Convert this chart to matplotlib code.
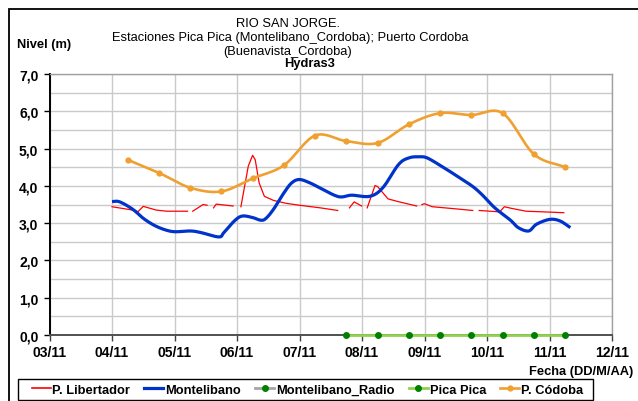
import numpy as np
import pandas as pd
import matplotlib
matplotlib.use("Agg")
import matplotlib.pyplot as plt
import matplotlib.dates as mdates
from matplotlib.lines import Line2D
from matplotlib.patches import Rectangle

plt.rcParams['font.family'] = ['Liberation Sans', 'DejaVu Sans']

FMT = "%d/%m/%Y %H:%M"

# P. Libertador (None = missing readings)
lib_t = ["04/11/2015 00:00", "04/11/2015 08:00", "04/11/2015 10:00", "04/11/2015 12:00",
         "04/11/2015 17:00", "04/11/2015 21:00", "05/11/2015 05:00", "05/11/2015 06:00",
         "05/11/2015 07:00", "05/11/2015 11:00", "05/11/2015 12:30", "05/11/2015 13:30",
         "05/11/2015 15:00", "05/11/2015 16:00", "05/11/2015 22:30", "06/11/2015 00:00",
         "06/11/2015 01:30", "06/11/2015 04:20", "06/11/2015 06:00", "06/11/2015 07:00",
         "06/11/2015 08:30", "06/11/2015 10:30", "06/11/2015 14:00", "06/11/2015 19:00",
         "07/11/2015 00:00", "07/11/2015 08:00", "07/11/2015 14:40", "07/11/2015 17:00",
         "07/11/2015 19:10", "07/11/2015 21:00", "07/11/2015 23:50", "08/11/2015 01:00",
         "08/11/2015 02:00", "08/11/2015 05:00", "08/11/2015 06:00", "08/11/2015 10:00",
         "08/11/2015 14:20", "08/11/2015 21:00", "08/11/2015 22:00", "08/11/2015 23:00",
         "09/11/2015 00:00", "09/11/2015 03:00", "09/11/2015 11:00", "09/11/2015 18:30",
         "09/11/2015 20:00", "09/11/2015 21:00", "10/11/2015 03:20", "10/11/2015 04:50",
         "10/11/2015 06:40", "10/11/2015 09:10", "10/11/2015 15:00", "10/11/2015 22:30",
         "11/11/2015 05:30"]
lib_v = [3.44, 3.35, 3.31, 3.45,
         3.35, 3.32, 3.32, None,
         3.32, 3.50, 3.48, None,
         3.41, 3.51, 3.46, None,
         3.44, 4.53, 4.82, 4.70,
         4.08, 3.72, 3.61, 3.53,
         3.48, 3.41, 3.34, None,
         3.41, 3.57, 3.46, None,
         3.41, 4.01, 3.98, 3.65,
         3.57, 3.46, None, 3.50,
         3.52, 3.44, 3.39, 3.34,
         None, 3.34, 3.31, 3.30,
         3.44, 3.40, 3.32, 3.30,
         3.28]

# Montelibano
mon_t = ["04/11/2015 00:00", "04/11/2015 03:00", "04/11/2015 08:00", "04/11/2015 12:00",
         "04/11/2015 16:00", "04/11/2015 20:00", "05/11/2015 00:00", "05/11/2015 06:00",
         "05/11/2015 10:00", "05/11/2015 17:00", "05/11/2015 19:00", "05/11/2015 23:00",
         "06/11/2015 02:00", "06/11/2015 06:00", "06/11/2015 09:00", "06/11/2015 11:00",
         "06/11/2015 14:00", "06/11/2015 18:00", "06/11/2015 21:00", "07/11/2015 00:00",
         "07/11/2015 04:00", "07/11/2015 08:00", "07/11/2015 15:00", "07/11/2015 20:00",
         "08/11/2015 03:00", "08/11/2015 08:00", "08/11/2015 14:00", "08/11/2015 18:00",
         "08/11/2015 22:00", "09/11/2015 01:00", "09/11/2015 06:00", "09/11/2015 11:00",
         "09/11/2015 18:00", "09/11/2015 22:00", "10/11/2015 03:00", "10/11/2015 09:00",
         "10/11/2015 12:00", "10/11/2015 16:00", "10/11/2015 19:00", "11/11/2015 00:00",
         "11/11/2015 04:00", "11/11/2015 08:00"]
mon_v = [3.58, 3.57, 3.37, 3.13,
         2.95, 2.83, 2.77, 2.79,
         2.75, 2.63, 2.75, 3.06,
         3.19, 3.15, 3.08, 3.12,
         3.37, 3.81, 4.08, 4.17,
         4.08, 3.94, 3.71, 3.75,
         3.72, 3.95, 4.57, 4.75,
         4.78, 4.75, 4.55, 4.33,
         4.01, 3.77, 3.41, 3.08,
         2.88, 2.79, 2.97, 3.10,
         3.06, 2.88]

# Pica Pica
pica_t = ["07/11/2015 18:00", "08/11/2015 06:00", "08/11/2015 18:00", "09/11/2015 06:00",
          "09/11/2015 18:00", "10/11/2015 06:00", "10/11/2015 18:00", "11/11/2015 06:00"]
pica_v = [0.0, 0.0, 0.0, 0.0, 0.0, 0.0, 0.0, 0.0]

# P. Córdoba
cor_t = ["04/11/2015 06:00", "04/11/2015 18:00", "05/11/2015 06:00", "05/11/2015 18:00",
         "06/11/2015 06:00", "06/11/2015 18:00", "07/11/2015 06:00", "07/11/2015 18:00",
         "08/11/2015 06:00", "08/11/2015 18:00", "09/11/2015 06:00", "09/11/2015 18:00",
         "10/11/2015 06:00", "10/11/2015 18:00", "11/11/2015 06:00"]
cor_v = [4.70, 4.35, 3.95, 3.85, 4.20, 4.55, 5.35, 5.20,
         5.15, 5.65, 5.95, 5.90, 5.95, 4.85, 4.50]

x_ticks = ["03/11/2015 00:00", "04/11/2015 00:00", "05/11/2015 00:00", "06/11/2015 00:00",
           "07/11/2015 00:00", "08/11/2015 00:00", "09/11/2015 00:00", "10/11/2015 00:00",
           "11/11/2015 00:00", "12/11/2015 00:00"]
y_ticks = [0, 1, 2, 3, 4, 5, 6, 7]

C_RED = "#FF0000"
C_BLUE = "#0033CC"
C_ORANGE = "#F0A030"
C_LGREEN = "#92D050"
C_DGREEN = "#008000"
C_GREY = "#A6A6A6"


def to_num(ts):
    return mdates.date2num(pd.to_datetime(ts, format=FMT))


def smooth(x, y, n=20):
    """Catmull-Rom curve through the points (like a smoothed spreadsheet line)."""
    x = np.asarray(x, float)
    y = np.asarray(y, float)
    px = np.concatenate([[2 * x[0] - x[1]], x, [2 * x[-1] - x[-2]]])
    py = np.concatenate([[2 * y[0] - y[1]], y, [2 * y[-1] - y[-2]]])
    t = np.linspace(0, 1, n, endpoint=False)
    xs, ys = [], []
    for i in range(1, len(px) - 2):
        for P, out in ((px, xs), (py, ys)):
            p0, p1, p2, p3 = P[i - 1], P[i], P[i + 1], P[i + 2]
            out.append(0.5 * ((2 * p1) + (-p0 + p2) * t
                              + (2 * p0 - 5 * p1 + 4 * p2 - p3) * t ** 2
                              + (-p0 + 3 * p1 - 3 * p2 + p3) * t ** 3))
    xs.append([x[-1]])
    ys.append([y[-1]])
    return np.concatenate(xs), np.concatenate(ys)


W, H = 638, 402
fig = plt.figure(figsize=(W / 100, H / 100), dpi=100)
ax = fig.add_axes([49.5 / W, 66 / H, (612 - 49.5) / W, (336 - 75) / H])

xt = to_num(x_ticks)
ax.set_xlim(xt[0], xt[-1])
ax.set_ylim(0, 7)

# grid
ax.set_xticks(xt)
ax.set_yticks(y_ticks)
ax.set_yticks(np.arange(0.5, 7, 1.0), minor=True)
ax.grid(True, which="both", color="#CACACA", lw=1.0, zorder=0)
ax.set_axisbelow(True)

# series
lx = to_num(lib_t)
lv = np.array([np.nan if v is None else v for v in lib_v], float)
ax.plot(lx, lv, color=C_RED, lw=0.9, zorder=3)

mx, my = smooth(to_num(mon_t), mon_v, 12)
ax.plot(mx, my, color=C_BLUE, lw=2.3, zorder=4, solid_capstyle="butt")

ax.plot(to_num(pica_t), pica_v, color=C_LGREEN, lw=2.0, marker="o", ms=4,
        mfc=C_DGREEN, mec=C_DGREEN, zorder=5, clip_on=False)

cx, cy = smooth(to_num(cor_t), cor_v, 20)
ax.plot(cx, cy, color=C_ORANGE, lw=1.9, zorder=5)
ax.plot(to_num(cor_t), cor_v, ls="none", marker="o", ms=3.5,
        mfc=C_ORANGE, mec=C_ORANGE, zorder=6)

# axes styling
ax.set_xticklabels([pd.to_datetime(s, format=FMT).strftime("%d/%m") for s in x_ticks])
ax.set_yticklabels([f"{v:.1f}".replace(".", ",") for v in y_ticks])
for lab in ax.get_xticklabels() + ax.get_yticklabels():
    lab.set_fontweight("bold")
    lab.set_fontsize(10)
ax.tick_params(axis="y", which="major", length=4, width=1, color="black", pad=4)
ax.tick_params(axis="y", which="minor", length=0)
ax.tick_params(axis="x", which="major", length=4, width=1, color="#404040", pad=3.5)
ax.spines["left"].set_color("black")
ax.spines["left"].set_linewidth(1.4)
ax.spines["bottom"].set_color("#505050")
ax.spines["bottom"].set_linewidth(1.4)
for s in ("top", "right"):
    ax.spines[s].set_color("#A0A0A0")
    ax.spines[s].set_linewidth(1.0)

# titles and labels
FS = 9.3
fig.text(288 / W, 1 - 24 / H, "RIO SAN JORGE.", ha="center", va="center", fontsize=FS)
fig.text(290 / W, 1 - 38 / H, "Estaciones Pica Pica (Montelibano_Cordoba); Puerto Cordoba",
         ha="center", va="center", fontsize=FS)
fig.text(288 / W, 1 - 51.5 / H, "(Buenavista_Cordoba)", ha="center", va="center", fontsize=FS)
fig.text(310 / W, 1 - 64 / H, "Hydras3", ha="center", va="center", fontsize=FS,
         fontweight="bold")
fig.text(17 / W, 1 - 45 / H, "Nivel (m)", ha="left", va="center", fontsize=FS,
         fontweight="bold")
fig.text(633 / W, 1 - 372 / H, "Fecha (DD/M/AA)", ha="right", va="center", fontsize=FS,
         fontweight="bold")

# legend
handles = [
    Line2D([], [], color=C_RED, lw=1.2),
    Line2D([], [], color=C_BLUE, lw=2.3),
    Line2D([], [], color=C_GREY, lw=2.0, marker="o", ms=4, mfc=C_DGREEN, mec=C_DGREEN),
    Line2D([], [], color=C_LGREEN, lw=2.0, marker="o", ms=4, mfc=C_DGREEN, mec=C_DGREEN),
    Line2D([], [], color=C_ORANGE, lw=1.9, marker="o", ms=3.5, mfc=C_ORANGE, mec=C_ORANGE),
]
labels = ["P. Libertador", "Montelibano", "Montelibano_Radio", "Pica Pica", "P. Códoba"]
fs_px = FS * 100 / 72
leg = fig.legend(handles, labels, loc="center left", ncol=5,
                 bbox_to_anchor=(31.5 / W, 1 - 390.5 / H),
                 prop={"weight": "bold", "size": FS}, frameon=False,
                 handlelength=19 / fs_px, handletextpad=2 / fs_px,
                 columnspacing=14 / fs_px, borderpad=0, borderaxespad=0)
fig.patches.append(Rectangle((17.5 / W, 1 - 401 / H), (592.5 - 17.5) / W, 21 / H,
                             transform=fig.transFigure, fill=False,
                             edgecolor="black", lw=1.0))

# outer chart frame
fig.patches.append(Rectangle((9 / W, -0.05), 1.1, 1 - 10 / H + 0.05,
                             transform=fig.transFigure, fill=False,
                             edgecolor="black", lw=1.3))

fig.savefig("out.png", dpi=100)
